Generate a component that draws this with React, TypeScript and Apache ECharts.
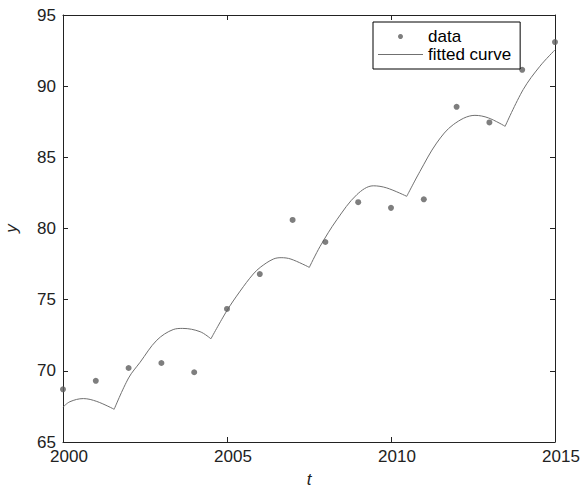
import React, { useEffect, useRef } from "react";
import * as echarts from "echarts";

const years = [2000, 2001, 2002, 2003, 2004, 2005, 2006, 2007, 2008, 2009, 2010, 2011, 2012, 2013, 2014, 2015];
const dataValues = [68.7, 69.3, 70.2, 70.55, 69.9, 74.35, 76.8, 80.6, 79.05, 81.85, 81.45, 82.05, 88.55, 87.45, 91.15, 93.1];

// fitted curve, split at its kinks
const curveSeg0 = [[2000, 67.45], [2000.21, 67.83], [2000.62, 68.05], [2001.03, 67.85], [2001.56, 67.3]];
const curveSeg1 = [[2001.56, 67.3], [2002.0, 69.5], [2002.35, 70.6], [2002.86, 72.15], [2003.36, 72.9], [2003.65, 72.98], [2004.18, 72.75], [2004.51, 72.25]];
const curveSeg2 = [[2004.51, 72.25], [2004.99, 74.2], [2005.4, 75.6], [2005.8, 76.8], [2006.03, 77.3], [2006.41, 77.85], [2006.65, 77.95], [2006.95, 77.85], [2007.51, 77.27]];
const curveSeg3 = [[2007.51, 77.27], [2007.84, 78.75], [2008.35, 80.62], [2008.96, 82.38], [2009.46, 83.0], [2009.87, 82.85], [2010.48, 82.26]];
const curveSeg4 = [[2010.48, 82.26], [2010.88, 84.0], [2011.39, 86.0], [2011.9, 87.3], [2012.56, 87.95], [2012.97, 87.77], [2013.48, 87.18]];
const curveSeg5 = [[2013.48, 87.18], [2014.03, 89.76], [2014.54, 91.4], [2015, 92.55]];

const curveSegments = [curveSeg0, curveSeg1, curveSeg2, curveSeg3, curveSeg4, curveSeg5];

const FONT = "'Liberation Sans', Arial, sans-serif";
const AXIS_COLOR = "#222";

export default function App() {
  const ref = useRef<HTMLDivElement>(null);

  useEffect(() => {
    if (!ref.current) return;
    const chart = echarts.init(ref.current, undefined, { renderer: "svg" });

    const scatterData = years.map((y, i) => [y, dataValues[i]]);

    const axisCommon = {
      type: "value" as const,
      axisLine: { show: true, lineStyle: { color: AXIS_COLOR, width: 1 } },
      axisTick: { show: true, inside: true, length: 5, lineStyle: { color: AXIS_COLOR, width: 1 } },
      splitLine: { show: false },
    };

    const lineSeries = curveSegments.map((seg) => ({
      name: "fitted curve",
      type: "line",
      data: seg,
      smooth: 0.35,
      symbol: "none",
      showSymbol: false,
      lineStyle: { color: "#707070", width: 1 },
      itemStyle: { color: "#707070" },
      xAxisIndex: 0,
      yAxisIndex: 0,
      z: 2,
    }));

    chart.setOption({
      animation: false,
      backgroundColor: "#fff",
      grid: { left: 63, right: 28, top: 15, bottom: 47, outerBoundsMode: "none", containLabel: false },
      legend: {
        orient: "vertical",
        left: 373,
        top: 22,
        backgroundColor: "#fff",
        borderColor: "#000",
        borderWidth: 1,
        borderRadius: 0,
        padding: [6, 9, 6, 5],
        itemGap: 1,
        itemWidth: 45,
        itemHeight: 5,
        textStyle: { fontSize: 17, fontFamily: FONT, color: "#000" },
        data: [
          { name: "data", icon: "circle" },
          { name: "fitted curve", icon: "path://M0,0H45V1H0Z" },
        ],
      },
      xAxis: [
        {
          ...axisCommon,
          position: "bottom",
          min: 2000,
          max: 2015,
          interval: 5,
          name: "t",
          nameLocation: "middle",
          nameGap: 29,
          nameTextStyle: { fontSize: 17, fontStyle: "italic", fontFamily: FONT, color: "#222" },
          axisLabel: {
            fontSize: 17,
            fontFamily: FONT,
            color: "#222",
            margin: 6,
            padding: [0, 0, 0, 12],
            showMinLabel: true,
            showMaxLabel: true,
            formatter: (v: number) => String(v),
          },
        },
        {
          ...axisCommon,
          position: "top",
          min: 2000,
          max: 2015,
          interval: 5,
          axisLabel: { show: false },
        },
      ],
      yAxis: [
        {
          ...axisCommon,
          position: "left",
          min: 65,
          max: 95,
          interval: 5,
          name: "y",
          nameLocation: "middle",
          nameRotate: 90,
          nameGap: 43,
          nameTextStyle: { fontSize: 17, fontStyle: "italic", fontFamily: FONT, color: "#222" },
          axisLabel: { fontSize: 17, fontFamily: FONT, color: "#222", margin: 7 },
        },
        {
          ...axisCommon,
          position: "right",
          min: 65,
          max: 95,
          interval: 5,
          axisLabel: { show: false },
        },
      ],
      series: [
        {
          name: "data",
          type: "scatter",
          data: scatterData,
          symbol: "circle",
          symbolSize: 6,
          itemStyle: { color: "#5e5e5e" },
          xAxisIndex: 0,
          yAxisIndex: 0,
          z: 3,
        },
        ...lineSeries,
      ],
    });

    return () => chart.dispose();
  }, []);

  return (
    <div
      ref={ref}
      style={{ position: "fixed", left: 0, top: 0, width: 583, height: 489, background: "#fff" }}
    />
  );
}
